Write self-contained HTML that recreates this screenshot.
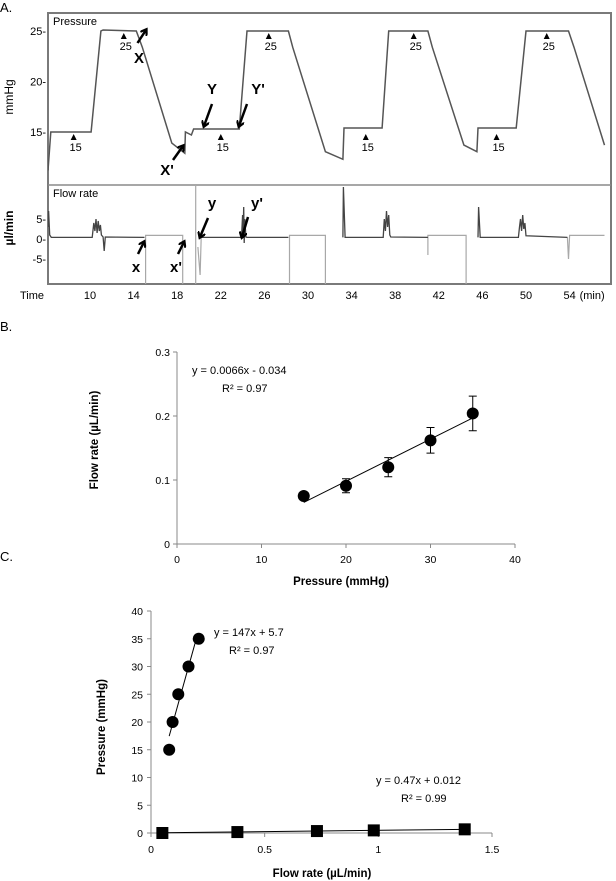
<!DOCTYPE html>
<html><head><meta charset="utf-8"><style>
body{margin:0;background:#fff;}
svg{display:block;font-family:"Liberation Sans",sans-serif;}
</style></head><body>
<svg id="fig" width="616" height="881" viewBox="0 0 616 881" xmlns="http://www.w3.org/2000/svg">
<defs><marker id="ah" markerWidth="8" markerHeight="8" refX="5" refY="4" orient="auto" markerUnits="userSpaceOnUse"><path d="M0,0 L6,4 L0,8" fill="none" stroke="#000" stroke-width="2.2"/></marker></defs>
<text x="0" y="12" font-size="13">A.</text>
<text x="0" y="331" font-size="13">B.</text>
<text x="0" y="561" font-size="13">C.</text>
<g id="pa"></g>
<g id="pb"></g>
<g id="pc"></g>
</svg>
<script>
// ---- Panel A data ----
const pressureTimes = [6.15,6.4,10.1,11.0,11.2,14.25,14.8,17.5,18.7,18.75,19.3,19.5,20.0,23.7,24.4,28.2,28.6,31.6,33.2,33.3,36.8,37.4,41.0,41.4,44.3,45.5,45.6,49.1,50.0,53.9,54.4,57.2];
const pressureValues = [11.2,15,15,25,25.1,25,23.4,13.9,12.9,15,14.7,15.3,15.3,15.3,25,25,23.4,13.05,12.3,15.4,15.4,25,25,23.4,13.7,13.05,15.4,15.4,25,25,23.4,13.7];
const flowDarkTimes = [6.15,6.2,6.3,6.45,10.2,10.35,10.45,10.55,10.65,10.75,10.85,10.95,11.05,11.2,11.3,11.4,15.0,null,20.2,23.9,24.0,24.05,24.1,24.15,24.2,24.3,24.4,28.2,null,33.2,33.25,33.4,36.9,37.0,37.1,37.2,37.3,37.4,37.5,37.6,41.0,null,45.6,45.65,45.8,49.3,49.4,49.5,49.6,49.7,49.8,49.9,50.0,53.8];
const flowDarkValues = [3,7,1,0.4,0.4,4,2,5,1.5,4.5,2,3.5,1,0.5,-3,0.5,0.4,null,0.4,0.4,6,1,8,-1,5,0.5,0.4,0.4,null,0.4,13,0.4,0.4,5,2,7,3,6,1,0.5,0.4,null,0.4,8,0.4,0.4,3,5,2,6,2.5,4,0.8,0.4];
const flowGrayTimes = [15.1,15.1,18.5,18.5,null,19.7,19.7,null,19.9,20.1,20.2,null,28.3,28.3,31.6,31.6,null,41.0,41.0,44.5,44.5,null,53.8,53.9,54.0,57.2];
const flowGrayValues = [-12,0.9,0.9,-12,null,13.5,-12,null,-2,-9,0.4,null,-12,0.9,0.9,-12,null,-4,0.9,0.9,-12,null,0.4,-5,0.9,0.9];
const timeTicks = [10,14,18,22,26,30,34,38,42,46,50,54];
const pressureTicks = [15,20,25];
const flowTicks = [5,0,-5];
const markerTimes = [8.5,13.1,22.0,26.4,35.3,39.7,47.3,51.9];
const markerLevels = [15,25,15,25,15,25,15,25];

// ---- Panel B data ----
const bPressure = [15,20,25,30,35];
const bFlow = [0.075,0.091,0.12,0.162,0.204];
const bErr = [0.004,0.011,0.015,0.02,0.027];
const bXTicks = [0,10,20,30,40];
const bYTicks = [0,0.1,0.2,0.3];
const bSlope = 0.0066, bIntercept = -0.034;

// ---- Panel C data ----
const cCircleFlow = [0.08,0.095,0.12,0.165,0.21];
const cCirclePressure = [15,20,25,30,35];
const cSquareFlow = [0.05,0.38,0.73,0.98,1.38];
const cSquarePressure = [0,0.17,0.35,0.47,0.66];
const cXTicks = [0,0.5,1,1.5];
const cYTicks = [0,5,10,15,20,25,30,35,40];
const cSlope1 = 147, cInt1 = 5.7, cSlope2 = 0.47, cInt2 = 0.012;

const NS = "http://www.w3.org/2000/svg";
function mk(parent, tag, attrs, text){const e=document.createElementNS(NS,tag);for(const k in attrs)e.setAttribute(k,attrs[k]);if(text!==undefined)e.textContent=text;parent.appendChild(e);return e;}
function pathFrom(ts, vs, sx, sy){let d="",pen=false;for(let i=0;i<ts.length;i++){if(ts[i]===null){pen=false;continue;}d+=(pen?"L":"M")+sx(ts[i]).toFixed(1)+","+sy(vs[i]).toFixed(1);pen=true;}return d;}

// ===== Panel A =====
(function(){
const g=document.getElementById('pa');
const tx=t=>90+(t-10)*10.9;
const py=p=>31+(25-p)*10.1;
const fy=v=>239-v*4;
const L=48,R=611,T=13,M=185,B=284;
let e;
e=mk(g,'clipPath',{id:'clipP'});mk(e,'rect',{x:L,y:T,width:R-L,height:M-T});
e=mk(g,'clipPath',{id:'clipF'});mk(e,'rect',{x:L,y:M,width:R-L,height:B-M});
e=mk(g,'rect',{x:L,y:T,width:R-L,height:B-T,fill:'#fff',stroke:'#7a7a7a','stroke-width':2});

e=mk(g,'line',{x1:L,x2:R,y1:M,y2:M,stroke:'#8a8a8a','stroke-width':1.5});

e=mk(g,'path',{d:pathFrom(pressureTimes,pressureValues,tx,py),fill:'none',stroke:'#555','stroke-width':1.5,'clip-path':'url(#clipP)'});

e=mk(g,'path',{d:pathFrom(flowGrayTimes,flowGrayValues,tx,fy),fill:'none',stroke:'#a8a8a8','stroke-width':1.2,'clip-path':'url(#clipF)'});

e=mk(g,'path',{d:pathFrom(flowDarkTimes,flowDarkValues,tx,fy),fill:'none',stroke:'#444','stroke-width':1.3,'clip-path':'url(#clipF)'});

e=mk(g,'text',{x:L+5,y:T+12,'font-size':11},'Pressure');

e=mk(g,'text',{x:L+5,y:M+12,'font-size':11},'Flow rate');

e=mk(g,'text',{x:0,y:0,'font-size':12,'text-anchor':'middle',transform:'translate(13,97) rotate(-90)'},'mmHg');

e=mk(g,'text',{x:0,y:0,'font-size':12,'font-weight':'bold','text-anchor':'middle',transform:'translate(13,228) rotate(-90)'},'µl/min');

pressureTicks.forEach(p=>{e=mk(g,'text',{x:46,y:py(p)+4,'font-size':11,'text-anchor':'end'},p+'-');
});
flowTicks.forEach(v=>{e=mk(g,'text',{x:46,y:fy(v)+4,'font-size':11,'text-anchor':'end'},v+'-');
});
timeTicks.forEach(t=>{e=mk(g,'text',{x:tx(t),y:299,'font-size':11,'text-anchor':'middle'},String(t));
});
e=mk(g,'text',{x:20,y:299,'font-size':11},'Time');

e=mk(g,'text',{x:tx(54)+10,y:299,'font-size':11},'(min)');

markerTimes.forEach((t,i)=>{const x=tx(t),y=py(markerLevels[i])+2;
e=mk(g,'path',{d:`M${x-3},${y+6}L${x},${y}L${x+3},${y+6}Z`,fill:'#000'});

e=mk(g,'text',{x:x+2,y:y+17,'font-size':11,'text-anchor':'middle'},String(markerLevels[i]));
});
const ann=[['X',139,63,137.5,43,146,30],["X'",167,175,173,160,183,146],['Y',212,94,212,104,204,126],["Y'",258,94,247,104,239,126],
['y',212,208,208,218,200,237],["y'",257,208,248,217,242,237],['x',136,272,138,254,144,242],["x'",176,272,178,254,184,242]];
ann.forEach(a=>{e=mk(g,'text',{x:a[1],y:a[2],'font-size':15,'font-weight':'bold','text-anchor':'middle'},a[0]);

e=mk(g,'line',{x1:a[3],y1:a[4],x2:a[5],y2:a[6],stroke:'#000','stroke-width':2.5,'marker-end':'url(#ah)'});
});
})();

// ===== Panel B =====
(function(){
const g=document.getElementById('pb');
const X0=177,X1=515,Y0=544,Y1=352;
const sx=v=>X0+(v-0)/40*(X1-X0);
const sy=v=>Y0-(v/0.3)*(Y0-Y1);
let e;
e=mk(g,'line',{x1:X0,y1:Y1,x2:X0,y2:Y0,stroke:'#888'});
e=mk(g,'line',{x1:X0,y1:Y0,x2:X1,y2:Y0,stroke:'#888'});
bYTicks.forEach(v=>{mk(g,'line',{x1:X0-4,x2:X0,y1:sy(v),y2:sy(v),stroke:'#888'});
e=mk(g,'text',{x:X0-7,y:sy(v)+4,'font-size':10.5,'text-anchor':'end'},String(v));
});
bXTicks.forEach(v=>{mk(g,'line',{x1:sx(v),x2:sx(v),y1:Y0,y2:Y0+4,stroke:'#888'});
e=mk(g,'text',{x:sx(v),y:Y0+19,'font-size':10.5,'text-anchor':'middle'},String(v));
});
e=mk(g,'line',{x1:sx(15),y1:sy(bSlope*15+bIntercept),x2:sx(35),y2:sy(bSlope*35+bIntercept),stroke:'#000','stroke-width':1});

bPressure.forEach((p,i)=>{const x=sx(p);
e=mk(g,'path',{d:`M${x},${sy(bFlow[i]-bErr[i])}V${sy(bFlow[i]+bErr[i])}M${x-4},${sy(bFlow[i]-bErr[i])}H${x+4}M${x-4},${sy(bFlow[i]+bErr[i])}H${x+4}`,stroke:'#000',fill:'none'});

e=mk(g,'circle',{cx:x,cy:sy(bFlow[i]),r:6,fill:'#000'});
});
e=mk(g,'text',{x:192,y:374,'font-size':11},'y = 0.0066x - 0.034');
e=mk(g,'text',{x:222,y:392,'font-size':11},'R² = 0.97');
e=mk(g,'text',{x:341,y:585,'font-size':11.5,'font-weight':'bold','text-anchor':'middle'},'Pressure (mmHg)');

e=mk(g,'text',{x:0,y:0,'font-size':11.5,'font-weight':'bold','text-anchor':'middle',transform:'translate(98,440) rotate(-90)'},'Flow rate (µL/min)');

})();

// ===== Panel C =====
(function(){
const g=document.getElementById('pc');
const X0=151,X1=492,Y0=833,Y1=611;
const sx=v=>X0+v/1.5*(X1-X0);
const sy=v=>Y0-v/40*(Y0-Y1);
let e;
e=mk(g,'line',{x1:X0,y1:Y1,x2:X0,y2:Y0,stroke:'#888'});
e=mk(g,'line',{x1:X0,y1:Y0,x2:X1,y2:Y0,stroke:'#888'});
cYTicks.forEach(v=>{mk(g,'line',{x1:X0-4,x2:X0,y1:sy(v),y2:sy(v),stroke:'#888'});
e=mk(g,'text',{x:X0-8,y:sy(v)+4,'font-size':10.5,'text-anchor':'end'},String(v));
});
cXTicks.forEach(v=>{mk(g,'line',{x1:sx(v),x2:sx(v),y1:Y0,y2:Y0+4,stroke:'#888'});
e=mk(g,'text',{x:sx(v),y:Y0+20,'font-size':10.5,'text-anchor':'middle'},String(v));
});
e=mk(g,'line',{x1:sx(0.08),y1:sy(cSlope1*0.08+cInt1),x2:sx(0.2),y2:sy(cSlope1*0.2+cInt1),stroke:'#000'});

e=mk(g,'line',{x1:sx(0.05),y1:sy(cSlope2*0.05+cInt2),x2:sx(1.38),y2:sy(cSlope2*1.38+cInt2),stroke:'#000'});

cCircleFlow.forEach((f,i)=>{e=mk(g,'circle',{cx:sx(f),cy:sy(cCirclePressure[i]),r:6,fill:'#000'});
});
cSquareFlow.forEach((f,i)=>{e=mk(g,'rect',{x:sx(f)-6,y:sy(cSquarePressure[i])-6,width:12,height:12,fill:'#000'});
});
e=mk(g,'text',{x:214,y:636,'font-size':11},'y = 147x + 5.7');
e=mk(g,'text',{x:229,y:654,'font-size':11},'R² = 0.97');
e=mk(g,'text',{x:376,y:784,'font-size':11},'y = 0.47x + 0.012');
e=mk(g,'text',{x:401,y:802,'font-size':11},'R² = 0.99');
e=mk(g,'text',{x:322,y:877,'font-size':11.5,'font-weight':'bold','text-anchor':'middle'},'Flow rate (µL/min)');

e=mk(g,'text',{x:0,y:0,'font-size':11.5,'font-weight':'bold','text-anchor':'middle',transform:'translate(105,727) rotate(-90)'},'Pressure (mmHg)');

})();
</script>
</body></html>
